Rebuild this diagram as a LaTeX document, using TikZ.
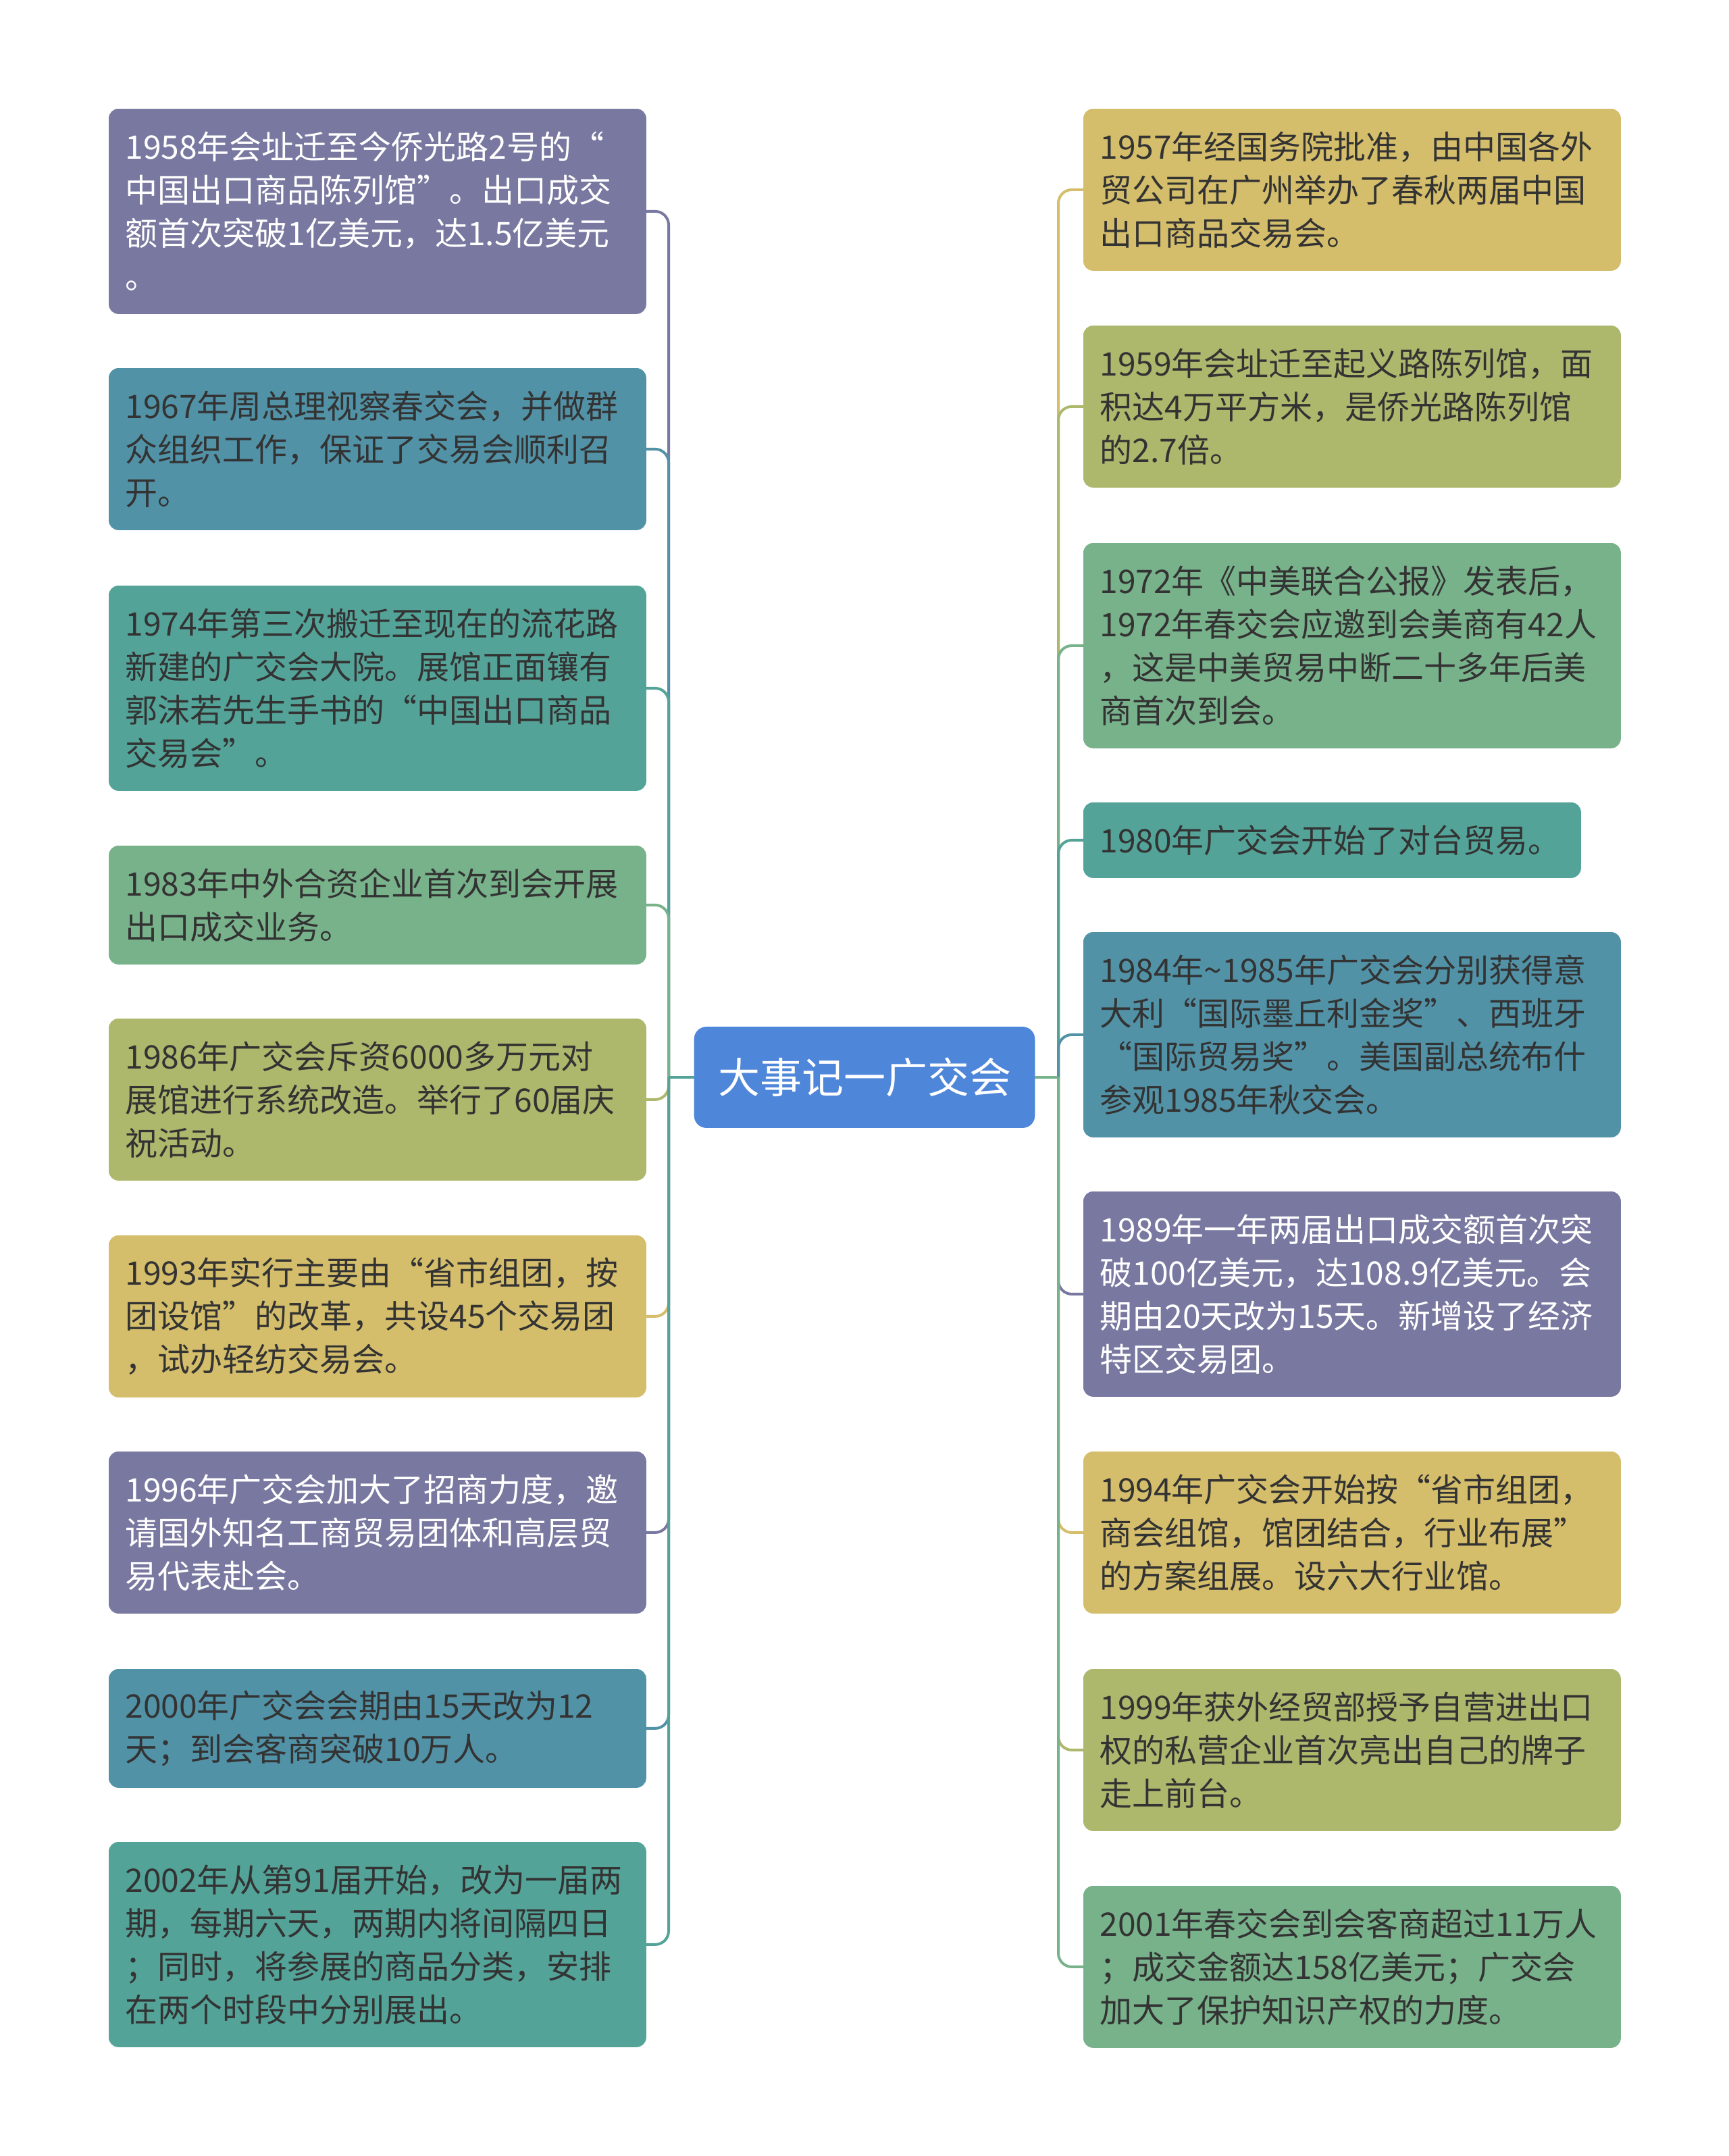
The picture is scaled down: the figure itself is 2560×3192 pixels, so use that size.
\documentclass[tikz,border=0pt]{standalone}
\usepackage{fontspec}
\setmainfont{Noto Sans CJK SC}
\definecolor{cpurple}{HTML}{7878A0}
\definecolor{ctealblue}{HTML}{5292A7}
\definecolor{ctealgreen}{HTML}{54A398}
\definecolor{cgreen}{HTML}{78B28B}
\definecolor{colive}{HTML}{ADB86C}
\definecolor{cyellow}{HTML}{D5BE6B}
\definecolor{croot}{HTML}{4E86D9}
\definecolor{cdark}{HTML}{333333}
\tikzset{
  evbox/.style={fill=#1, draw=#1, rounded corners=7pt, anchor=north west,
    inner xsep=12pt, inner ysep=0pt, align=left, text=cdark,
    text width=373.5pt, font=\fontsize{24pt}{32pt}\selectfont},
  wtext/.style={text=white},
  conn/.style={draw=#1, line width=2pt, rounded corners=10pt},
  rootbox/.style={fill=croot, draw=croot, rounded corners=9pt, text=white,
    minimum width=252pt, minimum height=74.5pt, inner sep=0pt,
    font=\fontsize{31pt}{36pt}\selectfont}
}
\begin{document}
\begin{tikzpicture}[x=0.5pt,y=-0.5pt]
\useasboundingbox[fill=white] (0,0) rectangle (2560,3192);
% root
\node[rootbox] (root) at (1280,1595) {大事记一广交会};
% left boxes
\node[evbox=cpurple, wtext, minimum height=151.5pt] (L1) at (161,161) {1958年会址迁至今侨光路2号的“\\中国出口商品陈列馆”。出口成交\\额首次突破1亿美元，达1.5亿美元\\。};
\node[evbox=ctealblue, minimum height=119.5pt] (L2) at (161,545) {1967年周总理视察春交会，并做群\\众组织工作，保证了交易会顺利召\\开。};
\node[evbox=ctealgreen, minimum height=151.5pt] (L3) at (161,867) {1974年第三次搬迁至现在的流花路\\新建的广交会大院。展馆正面镶有\\郭沫若先生手书的“中国出口商品\\交易会”。};
\node[evbox=cgreen, minimum height=87.5pt] (L4) at (161,1252) {1983年中外合资企业首次到会开展\\出口成交业务。};
\node[evbox=colive, minimum height=119.5pt] (L5) at (161,1508) {1986年广交会斥资6000多万元对\\展馆进行系统改造。举行了60届庆\\祝活动。};
\node[evbox=cyellow, minimum height=119.5pt] (L6) at (161,1829) {1993年实行主要由“省市组团，按\\团设馆”的改革，共设45个交易团\\，试办轻纺交易会。};
\node[evbox=cpurple, wtext, minimum height=119.5pt] (L7) at (161,2149) {1996年广交会加大了招商力度，邀\\请国外知名工商贸易团体和高层贸\\易代表赴会。};
\node[evbox=ctealblue, minimum height=87.5pt] (L8) at (161,2471) {2000年广交会会期由15天改为12\\天；到会客商突破10万人。};
\node[evbox=ctealgreen, minimum height=151.5pt] (L9) at (161,2727) {2002年从第91届开始，改为一届两\\期，每期六天，两期内将间隔四日\\；同时，将参展的商品分类，安排\\在两个时段中分别展出。};
% right boxes
\node[evbox=cyellow, minimum height=119.5pt] (R1) at (1604,161) {1957年经国务院批准，由中国各外\\贸公司在广州举办了春秋两届中国\\出口商品交易会。};
\node[evbox=colive, minimum height=119.5pt] (R2) at (1604,482) {1959年会址迁至起义路陈列馆，面\\积达4万平方米，是侨光路陈列馆\\的2.7倍。};
\node[evbox=cgreen, minimum height=151.5pt] (R3) at (1604,804) {1972年《中美联合公报》发表后，\\1972年春交会应邀到会美商有42人\\，这是中美贸易中断二十多年后美\\商首次到会。};
\node[evbox=ctealgreen, text width=344pt, minimum height=55.5pt] (R4) at (1604,1188) {1980年广交会开始了对台贸易。};
\node[evbox=ctealblue, minimum height=151.5pt] (R5) at (1604,1380) {1984年\textasciitilde1985年广交会分别获得意\\大利“国际墨丘利金奖”、西班牙\\“国际贸易奖”。美国副总统布什\\参观1985年秋交会。};
\node[evbox=cpurple, wtext, minimum height=151.5pt] (R6) at (1604,1764) {1989年一年两届出口成交额首次突\\破100亿美元，达108.9亿美元。会\\期由20天改为15天。新增设了经济\\特区交易团。};
\node[evbox=cyellow, minimum height=119.5pt] (R7) at (1604,2149) {1994年广交会开始按“省市组团，\\商会组馆，馆团结合，行业布展”\\的方案组展。设六大行业馆。};
\node[evbox=colive, minimum height=119.5pt] (R8) at (1604,2471) {1999年获外经贸部授予自营进出口\\权的私营企业首次亮出自己的牌子\\走上前台。};
\node[evbox=cgreen, minimum height=119.5pt] (R9) at (1604,2792) {2001年春交会到会客商超过11万人\\；成交金额达158亿美元；广交会\\加大了保护知识产权的力度。};
% connectors
\coordinate (LT) at (990,1595);
\coordinate (RT) at (1567,1595);
\foreach \n/\c in {L1/cpurple,L2/ctealblue,L3/ctealgreen,L4/cgreen,L5/colive,L6/cyellow,L7/cpurple,L8/ctealblue,L9/ctealgreen}{
  \draw[conn=\c] (LT) -- (LT |- \n.east) -- (\n.east);
}
\foreach \n/\c in {R1/cyellow,R2/colive,R3/cgreen,R4/ctealgreen,R5/ctealblue,R6/cpurple,R7/cyellow,R8/colive,R9/cgreen}{
  \draw[conn=\c] (RT) -- (RT |- \n.east) -- (\n.west);
}
\draw[conn=ctealgreen] (root.west) -- (LT);
\draw[conn=cgreen] (root.east) -- (RT);
\end{tikzpicture}
\end{document}
